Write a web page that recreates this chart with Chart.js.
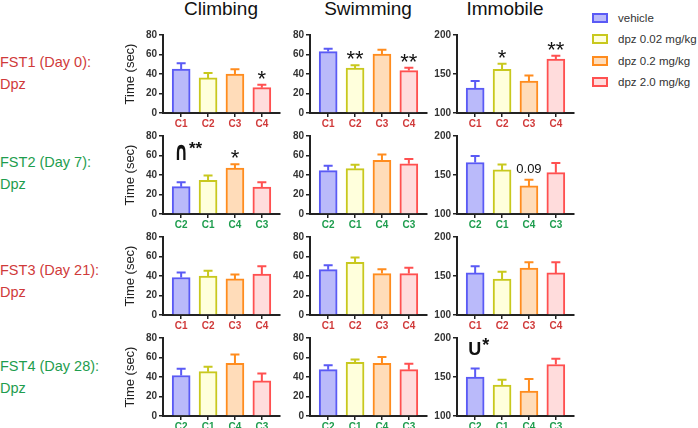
<!DOCTYPE html>
<html>
<head>
<meta charset="utf-8">
<script src="https://cdn.jsdelivr.net/npm/chart.js@4.4.1/dist/chart.umd.min.js"></script>
<style>
  body { margin: 0; background: #fff; font-family: 'Liberation Sans', Arial, sans-serif; }
  #wrap { position: relative; width: 698px; height: 428px; overflow: hidden; }
  #wrap canvas { position: absolute; }
  .title { position: absolute; top: -1px; width: 140px; text-align: center; font-size: 19px; line-height: 19px; color: #111; }
  .row { position: absolute; left: 0; font-size: 14.5px; line-height: 22px; white-space: nowrap; }
  .leg { position: absolute; left: 592px; height: 14px; font-size: 11.5px; line-height: 14px; color: #333; }
  .leg i { position: absolute; left: 0; top: 2px; width: 12px; height: 6px; border: 2px solid; }
  .leg span { position: absolute; left: 26px; top: 0; white-space: nowrap; }
</style>
</head>
<body>
<div id="wrap"></div>
<script>
// groups, tests, sessions
const groups = ['vehicle', 'dpz 0.02 mg/kg', 'dpz 0.2 mg/kg', 'dpz 2.0 mg/kg'];
const tests = ['Climbing', 'Swimming', 'Immobile'];
const sessions = ['FST1 (Day 0):', 'FST2 (Day 7):', 'FST3 (Day 21):', 'FST4 (Day 28):'];
const cagesA = ['C1', 'C2', 'C3', 'C4'];
const cagesB = ['C2', 'C1', 'C4', 'C3'];

// mean time (sec) and SEM, one array per session / test
const fst1Climbing = [45, 36, 40, 26];       const fst1ClimbingErr = [6, 5, 5, 3];
const fst1Swimming = [63, 46, 60.5, 43.5];   const fst1SwimmingErr = [3, 3, 4.5, 3];
const fst1Immobile = [132, 156, 141, 169];   const fst1ImmobileErr = [9, 7, 7, 4.5];
const fst2Climbing = [28, 34.5, 47, 27.5];   const fst2ClimbingErr = [4.5, 5, 4, 5];
const fst2Swimming = [44.5, 46.5, 55, 51.5]; const fst2SwimmingErr = [5, 4, 6, 5];
const fst2Immobile = [166, 156.5, 136, 153]; const fst2ImmobileErr = [8.5, 7, 8, 12.5];
const fst3Climbing = [38.5, 40, 37, 42];     const fst3ClimbingErr = [5, 5.5, 4.5, 8];
const fst3Swimming = [46.5, 54, 42.5, 42.5]; const fst3SwimmingErr = [4.5, 5, 4.5, 6];
const fst3Immobile = [154, 146, 160, 154];   const fst3ImmobileErr = [8.5, 9.5, 7.5, 13.5];
const fst4Climbing = [41.5, 45.5, 54, 36];   const fst4ClimbingErr = [7, 5, 9, 7.5];
const fst4Swimming = [47.5, 55, 54, 47.5];   const fst4SwimmingErr = [4.5, 3, 6.5, 6];
const fst4Immobile = [150, 139.5, 132, 166]; const fst4ImmobileErr = [11, 7, 15.5, 7.5];

// significance marks above bars
const fst1ClimbingSig = ['', '', '', '*'];
const fst1SwimmingSig = ['', '**', '', '**'];
const fst1ImmobileSig = ['', '*', '', '**'];
const fst2ClimbingSig = ['', '', '*', ''];
const fst2ImmobileSig = ['', '', '0.09', ''];

const secTicks = [0, 80, 20];     // min, max, step
const immTicks = [100, 200, 50];

const fills = ['#babafa', '#ffffdc', '#ffdcb9', '#ffdcdc'];
const lines = ['#5a5af5', '#c8c81e', '#ff8c1e', '#ff5050'];
const red = '#d03a3a';
const green = '#1e9d4e';

const means = [
  [fst1Climbing, fst1Swimming, fst1Immobile],
  [fst2Climbing, fst2Swimming, fst2Immobile],
  [fst3Climbing, fst3Swimming, fst3Immobile],
  [fst4Climbing, fst4Swimming, fst4Immobile]
];
const errs = [
  [fst1ClimbingErr, fst1SwimmingErr, fst1ImmobileErr],
  [fst2ClimbingErr, fst2SwimmingErr, fst2ImmobileErr],
  [fst3ClimbingErr, fst3SwimmingErr, fst3ImmobileErr],
  [fst4ClimbingErr, fst4SwimmingErr, fst4ImmobileErr]
];
const sigs = [
  [fst1ClimbingSig, fst1SwimmingSig, fst1ImmobileSig],
  [fst2ClimbingSig, [], fst2ImmobileSig],
  [[], [], []],
  [[], [], []]
];
// big interaction symbols (baseline given in data units)
const panelMarks = [
  { r: 1, c: 0, main: '\u2229', sup: '**', y: 55, font: "'DejaVu Sans'", size: 17, stretch: 1.55, supSize: 17, lift: 6 },
  { r: 3, c: 2, main: 'U', sup: '*', y: 178, font: "'Liberation Sans'", size: 18, stretch: 1, supSize: 18, lift: 4 }
];

// layout
const colLeft = [163, 310, 457];
const rowTop = [35, 136, 237, 338];
const plotW = 117, plotH = 78;
const titleX = [221, 368, 505];
const rowLabelTop = [51, 151, 259, 355];
const legendY = [18, 39, 61, 82];

const wrap = document.getElementById('wrap');
Chart.defaults.font.family = "'Liberation Sans', Arial, sans-serif";

tests.forEach((t, c) => {
  const d = document.createElement('div');
  d.className = 'title';
  d.style.left = (titleX[c] - 70) + 'px';
  d.textContent = t;
  wrap.appendChild(d);
});

sessions.forEach((s, r) => {
  const d = document.createElement('div');
  d.className = 'row';
  d.style.top = rowLabelTop[r] + 'px';
  d.style.color = r % 2 === 0 ? red : green;
  d.innerHTML = s + '<br>Dpz';
  wrap.appendChild(d);
});

groups.forEach((g, i) => {
  const d = document.createElement('div');
  d.className = 'leg';
  d.style.top = (legendY[i] - 7) + 'px';
  d.innerHTML = '<i style="background:' + fills[i] + ';border-color:' + lines[i] + '"></i><span>' + g + '</span>';
  wrap.appendChild(d);
});

const extras = {
  id: 'extras',
  afterDatasetsDraw(chart, args, opts) {
    const ctx = chart.ctx;
    const ys = chart.scales.y, xs = chart.scales.x;
    const meta = chart.getDatasetMeta(0);
    meta.data.forEach((bar, i) => {
      const v = chart.data.datasets[0].data[i].y;
      const top = ys.getPixelForValue(v + opts.err[i]);
      ctx.save();
      ctx.strokeStyle = lines[i];
      ctx.lineWidth = 2;
      ctx.beginPath();
      ctx.moveTo(bar.x, bar.y);
      ctx.lineTo(bar.x, top);
      ctx.moveTo(bar.x - 4.5, top);
      ctx.lineTo(bar.x + 4.5, top);
      ctx.stroke();
      const m = opts.sig[i];
      if (m) {
        ctx.fillStyle = '#111';
        ctx.textAlign = 'center';
        ctx.textBaseline = 'alphabetic';
        if (m.indexOf('*') === 0) {
          ctx.font = "22px 'Liberation Sans', Arial";
          ctx.fillText(m, bar.x, top + 1);
        } else {
          ctx.font = "13px 'Liberation Sans', Arial";
          ctx.fillText(m, bar.x, top - 7);
        }
      }
      ctx.restore();
    });
    (opts.marks || []).forEach(pm => {
      const px = xs.getPixelForValue(0) - 7;
      const py = ys.getPixelForValue(pm.y);
      ctx.save();
      ctx.fillStyle = '#111';
      ctx.textAlign = 'left';
      ctx.textBaseline = 'alphabetic';
      ctx.font = 'bold ' + pm.size + 'px ' + pm.font;
      const w = ctx.measureText(pm.main).width;
      ctx.translate(px, py);
      ctx.scale(1, pm.stretch);
      ctx.fillText(pm.main, 0, 0);
      ctx.setTransform(1, 0, 0, 1, 0, 0);
      ctx.font = 'bold ' + pm.supSize + "px 'Liberation Sans', Arial";
      ctx.fillText(pm.sup, px + w + 1, py - pm.lift);
      ctx.restore();
    });
  }
};

function makePanel(r, c) {
  const padL = c === 0 ? 40 : 30;
  const cv = document.createElement('canvas');
  cv.width = padL + plotW + 8;
  cv.height = 8 + plotH + 20;
  cv.style.left = (colLeft[c] - padL) + 'px';
  cv.style.top = (rowTop[r] - 8) + 'px';
  wrap.appendChild(cv);

  const imm = c === 2;
  const yt = imm ? immTicks : secTicks;
  const labels = r % 2 === 0 ? cagesA : cagesB;
  const vals = means[r][c];
  const axisBorder = { display: true, color: '#222', width: 2 };

  new Chart(cv, {
    type: 'bar',
    data: {
      datasets: [{
        data: vals.map((v, i) => ({ x: i, y: v })),
        backgroundColor: fills,
        borderColor: lines,
        borderWidth: 2,
        borderSkipped: 'start',
        barThickness: 18,
        base: yt[0]
      }]
    },
    options: {
      responsive: false,
      animation: false,
      devicePixelRatio: 1,
      layout: { padding: { top: 8, right: 8, left: 0, bottom: 0 } },
      plugins: {
        legend: { display: false },
        tooltip: { enabled: false },
        extras: {
          err: errs[r][c],
          sig: sigs[r][c],
          marks: panelMarks.filter(p => p.r === r && p.c === c)
        }
      },
      scales: {
        x: {
          type: 'linear',
          min: -0.675,
          max: 3.675,
          bounds: 'data',
          offset: false,
          afterBuildTicks(s) { s.ticks = labels.map((l, i) => ({ value: i })); },
          afterFit(s) { s.height = 20; },
          ticks: {
            autoSkip: false,
            maxRotation: 0,
            padding: 1,
            color: r % 2 === 0 ? red : green,
            font: { size: 10, weight: 'bold' },
            callback: (v, i) => labels[i]
          },
          grid: { display: true, offset: false, drawOnChartArea: false, tickLength: 4, color: '#222', lineWidth: 1.5 },
          border: axisBorder
        },
        y: {
          min: yt[0],
          max: yt[1],
          afterFit(s) { s.width = padL; },
          ticks: { stepSize: yt[2], padding: 2, color: '#333', font: { size: 10, weight: 'bold' } },
          grid: { display: true, drawOnChartArea: false, tickLength: 4, color: '#222', lineWidth: 1.5 },
          border: axisBorder,
          title: { display: c === 0, text: 'Time (sec)', padding: 0, color: '#222', font: { size: 13 } }
        }
      }
    },
    plugins: [extras]
  });
}

for (let r = 0; r < 4; r++) {
  for (let c = 0; c < 3; c++) makePanel(r, c);
}
</script>
</body>
</html>
